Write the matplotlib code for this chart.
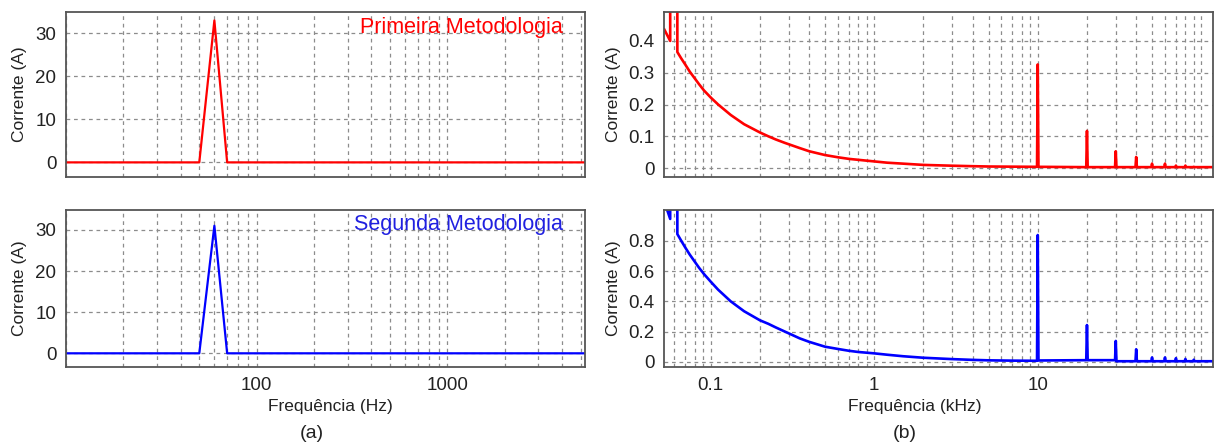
import numpy as np
import matplotlib
matplotlib.use("Agg")
import matplotlib.pyplot as plt
from matplotlib.ticker import FixedLocator, LogLocator, FuncFormatter, NullFormatter

plt.rcParams['font.family'] = ['Liberation Sans', 'DejaVu Sans']

# (a) spectrum in Hz
freq_hz = [10, 50, 60, 70, 5270]
corr_a_prim = [0, 0, 33.0, 0, 0]
corr_a_seg = [0, 0, 31.0, 0, 0]

# (b) spectrum in kHz (harmonics of the 10 kHz switching)
freq_khz = [0.052, 0.0565, 0.06, 0.0625, 0.066, 0.07, 0.0745, 0.0848, 0.091, 0.1,
            0.111, 0.1326, 0.16, 0.2, 0.225, 0.25, 0.285, 0.35, 0.4, 0.5,
            0.6, 0.7, 0.8, 1.0, 1.2, 1.5, 2.0, 3.0, 4.0, 5.0, 7.0,
            9.9, 10.0, 10.1, 19.8, 20.0, 20.2, 29.7, 30.0, 30.3,
            39.6, 40.0, 40.4, 49.5, 50.0, 50.5, 59.4, 60.0, 60.6,
            69.3, 70.0, 70.7, 79.2, 80.0, 80.8, 89.1, 90.0, 90.9, 118]
corr_b_prim = [0.436, 0.40, 33.0, 0.365, 0.345, 0.325, 0.303, 0.264, 0.244, 0.222,
               0.20, 0.167, 0.138, 0.112, 0.10, 0.09, 0.079, 0.063, 0.053, 0.041,
               0.034, 0.029, 0.026, 0.021, 0.017, 0.014, 0.010, 0.0075, 0.006, 0.005, 0.0045,
               0.004, 0.326, 0.004, 0.003, 0.117, 0.003, 0.003, 0.053, 0.003,
               0.003, 0.035, 0.003, 0.003, 0.014, 0.003, 0.003, 0.014, 0.003,
               0.003, 0.008, 0.003, 0.003, 0.008, 0.003, 0.003, 0.004, 0.003, 0.003]
corr_b_seg = [1.06, 0.944, 31.0, 0.844, 0.80, 0.754, 0.708, 0.622, 0.58, 0.53,
              0.477, 0.40, 0.335, 0.275, 0.252, 0.228, 0.20, 0.156, 0.133, 0.101,
              0.086, 0.074, 0.066, 0.057, 0.048, 0.038, 0.028, 0.019, 0.014, 0.011, 0.009,
              0.008, 0.838, 0.010, 0.012, 0.244, 0.012, 0.012, 0.139, 0.005,
              0.005, 0.084, 0.005, 0.005, 0.030, 0.005, 0.005, 0.030, 0.005,
              0.005, 0.025, 0.005, 0.005, 0.020, 0.005, 0.005, 0.015, 0.005, 0.005]

W, H = 1216, 446
fig = plt.figure(figsize=(W / 100, H / 100), dpi=100)


def box(x0, y0, x1, y1):
    return [x0 / W, 1 - y1 / H, (x1 - x0) / W, (y1 - y0) / H]


ax_a1 = fig.add_axes(box(66, 12.3, 585, 177))
ax_a2 = fig.add_axes(box(66, 209.7, 585, 367.3))
ax_b1 = fig.add_axes(box(664.3, 12.3, 1213, 177))
ax_b2 = fig.add_axes(box(664.3, 209.7, 1213, 367.3))

fmt = FuncFormatter(lambda v, p: f"{v:g}")

for ax in (ax_a1, ax_a2, ax_b1, ax_b2):
    ax.set_xscale('log')
    ax.xaxis.set_minor_locator(LogLocator(base=10, subs=np.arange(1, 10), numticks=30))
    ax.xaxis.set_minor_formatter(NullFormatter())
    ax.xaxis.set_major_formatter(fmt)
    ax.yaxis.set_major_formatter(fmt)
    ax.grid(True, which='both', axis='x', color='#8c8c8c', linestyle=(0, (3, 3)), linewidth=0.9)
    ax.grid(True, which='major', axis='y', color='#8c8c8c', linestyle=(0, (3, 3)), linewidth=0.9)
    ax.tick_params(which='both', length=0, labelsize=13.5, pad=7, colors='#222222')
    for s in ax.spines.values():
        s.set_color('#555555')
        s.set_linewidth(1.3)
    ax.set_ylabel('Corrente (A)', fontsize=12.5, color='#222222')
    ax.set_axisbelow(True)

# (a)
for ax, y, c in ((ax_a1, corr_a_prim, 'red'), (ax_a2, corr_a_seg, 'blue')):
    ax.plot(freq_hz, y, color=c, lw=1.6)
    ax.set_xlim(10, 5270)
    ax.set_ylim(-3.4, 34.9)
    ax.set_yticks([0, 10, 20, 30])
    ax.xaxis.set_major_locator(FixedLocator([100, 1000]))
    ax.yaxis.set_label_coords(-0.075, 0.5)

ax_a1.tick_params(axis='x', labelbottom=False)
ax_a1.text(0.958, 0.905, 'Primeira Metodologia', transform=ax_a1.transAxes,
           ha='right', va='center', color='red', fontsize=15.5)
ax_a2.text(0.958, 0.909, 'Segunda Metodologia', transform=ax_a2.transAxes,
           ha='right', va='center', color='#2020e0', fontsize=15.5)
ax_a2.set_xlabel('Frequência (Hz)', fontsize=12.5, color='#222222')
ax_a2.xaxis.set_label_coords(0.509, -0.2)

# (b)
ax_b1.plot(freq_khz, corr_b_prim, color='red', lw=1.9)
ax_b2.plot(freq_khz, corr_b_seg, color='blue', lw=1.9)
for ax in (ax_b1, ax_b2):
    ax.set_xlim(0.052, 118)
    ax.xaxis.set_major_locator(FixedLocator([0.1, 1, 10]))
    ax.yaxis.set_label_coords(-0.079, 0.5)
ax_b1.set_ylim(-0.028, 0.49)
ax_b1.set_yticks([0, 0.1, 0.2, 0.3, 0.4])
ax_b2.set_ylim(-0.035, 1.005)
ax_b2.set_yticks([0, 0.2, 0.4, 0.6, 0.8])
ax_b1.tick_params(axis='x', labelbottom=False)
ax_b2.set_xlabel('Frequência (kHz)', fontsize=12.5, color='#222222')
ax_b2.xaxis.set_label_coords(0.457, -0.2)

fig.text(312 / W, 1 - 433 / H, '(a)', ha='center', va='center', fontsize=14, color='#222222')
fig.text(905 / W, 1 - 433 / H, '(b)', ha='center', va='center', fontsize=14, color='#222222')

fig.savefig('out.png', dpi=100)
